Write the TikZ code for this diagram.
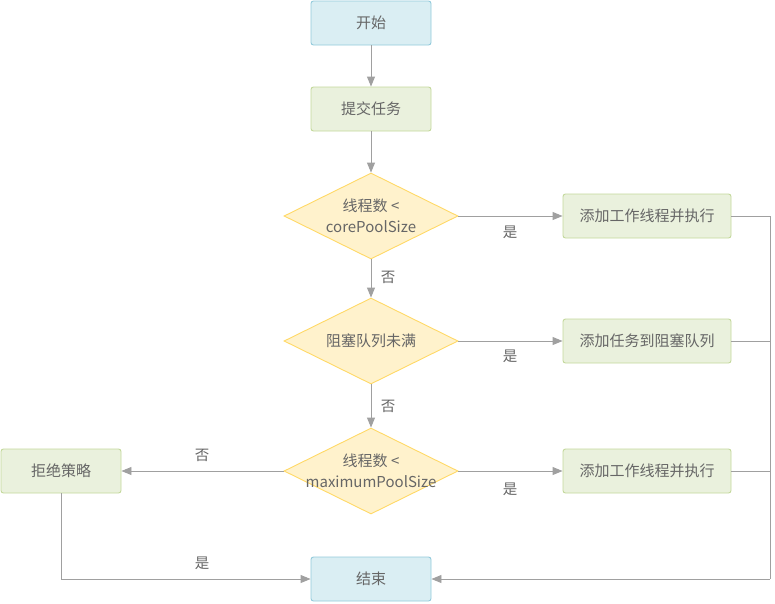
\documentclass[tikz,border=0pt]{standalone}
\usepackage{fontspec}
\setmainfont{Noto Sans CJK SC}
\usetikzlibrary{shapes.geometric,arrows.meta}
\definecolor{txt}{HTML}{666666}
\definecolor{ln}{HTML}{A0A0A0}
\definecolor{bfill}{HTML}{DAEEF3}
\definecolor{bdraw}{HTML}{92CADB}
\definecolor{gfill}{HTML}{EAF1DD}
\definecolor{gdraw}{HTML}{C3D89B}
\definecolor{yfill}{HTML}{FFF2CC}
\definecolor{ydraw}{HTML}{FFD966}
\tikzset{
  base/.style={font=\fontsize{15}{21.5}\selectfont, text=txt, line width=0.9pt, inner sep=0pt},
  bluebox/.style={base, rectangle, rounded corners=2.5pt, fill=bfill, draw=bdraw, minimum width=120pt, minimum height=44pt},
  greenbox/.style={base, rectangle, rounded corners=2.5pt, fill=gfill, draw=gdraw, minimum height=44pt},
  dia/.style={base, diamond, fill=yfill, draw=ydraw, minimum width=174pt, minimum height=86pt},
  diatext/.style={base, align=center},
  conn/.style={draw=ln, line width=0.9pt, -{Triangle[length=10pt,width=8pt]}},
  plain/.style={draw=ln, line width=0.9pt},
  lbl/.style={font=\fontsize{14.5}{16}\selectfont, text=txt, inner sep=0pt}
}
\begin{document}
\begin{tikzpicture}[x=1pt,y=-1pt]
\useasboundingbox (0,0) rectangle (775,603);
\node[bluebox] (start) at (371,23) {开始};
\node[greenbox, minimum width=120pt] (submit) at (371,109) {提交任务};
\node[dia] (d1) at (371,216) {};
\node[diatext] (t1) at (d1) {线程数 <\\corePoolSize};
\node[dia] (d2) at (371,341) {};
\node[diatext] (t2) at (d2) {阻塞队列未满};
\node[dia] (d3) at (371,471) {};
\node[diatext] (t3) at (d3) {线程数 <\\maximumPoolSize};
\node[greenbox, minimum width=168pt] (a1) at (647,216) {添加工作线程并执行};
\node[greenbox, minimum width=168pt] (a2) at (647,341) {添加任务到阻塞队列};
\node[greenbox, minimum width=168pt] (a3) at (647,471) {添加工作线程并执行};
\node[greenbox, minimum width=120pt] (rej) at (61,471) {拒绝策略};
\node[bluebox] (end) at (371,579) {结束};
\coordinate (rtop) at (770,216);
\coordinate (rbot) at (770,579);
\coordinate (lbot) at (61,579);

\draw[conn] (start) -- (submit);
\draw[conn] (submit) -- (d1);
\draw[conn] (d1) -- (d2);
\draw[conn] (d2) -- (d3);
\draw[conn] (d1) -- (a1);
\draw[conn] (d2) -- (a2);
\draw[conn] (d3) -- (a3);
\draw[conn] (d3) -- (rej);
\draw[plain] (a1.east) -- (rtop) -- (rbot);
\draw[plain] (a2.east) -- (a2.east -| rtop);
\draw[plain] (a3.east) -- (a3.east -| rtop);
\draw[conn] (rbot) -- (end);
\draw[conn] (rej.south) -- (lbot) -- (end.west);

\node[lbl] (l1) at (510,232) {是};
\node[lbl] (l2) at (510,356) {是};
\node[lbl] (l3) at (510,489) {是};
\node[lbl] (l4) at (388,277) {否};
\node[lbl] (l5) at (388,406) {否};
\node[lbl] (l6) at (202,455) {否};
\node[lbl] (l7) at (202,563) {是};
\end{tikzpicture}
\end{document}
